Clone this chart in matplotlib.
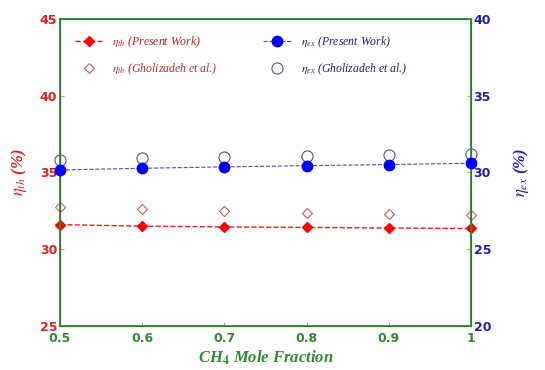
import matplotlib.pyplot as plt
import numpy as np

plt.rcParams['mathtext.fontset'] = 'stix'

# CH4 mole fraction and efficiencies (%)
x_ch4 = [0.5, 0.6, 0.7, 0.8, 0.9, 1.0]
eta_th_pw = [31.6, 31.5, 31.45, 31.42, 31.38, 31.35]
eta_th_gh = [32.73, 32.64, 32.51, 32.38, 32.3, 32.21]
eta_ex_pw = [30.16, 30.27, 30.36, 30.44, 30.51, 30.6]
eta_ex_gh = [30.81, 30.92, 31.03, 31.1, 31.16, 31.2]

red = '#e02020'
blue = '#2020b0'
green = '#2e8b2e'
serif = 'Liberation Serif'

fig = plt.figure(figsize=(5.45, 3.7), dpi=100)
ax1 = fig.add_axes([0.110, 0.119, 0.754, 0.830])
ax2 = ax1.twinx()

l1, = ax1.plot(x_ch4, eta_th_pw, color=red, linestyle='--', linewidth=1,
               marker='D', markersize=5, markerfacecolor='red', markeredgecolor='red',
               label=r'$\eta_{th}$ (Present Work)', clip_on=False, zorder=5)
l2, = ax1.plot(x_ch4, eta_th_gh, linestyle='none', marker='D', markersize=5.5,
               markerfacecolor='none', markeredgecolor='#c06060', markeredgewidth=0.8,
               label=r'$\eta_{th}$ (Gholizadeh et al.)', clip_on=False)
l3, = ax2.plot(x_ch4, eta_ex_pw, color='#5050a0', linestyle='--', linewidth=0.8,
               marker='o', markersize=7.5, markerfacecolor='blue', markeredgecolor='blue',
               label=r'$\eta_{ex}$ (Present Work)', clip_on=False, zorder=5)
l4, = ax2.plot(x_ch4, eta_ex_gh, linestyle='none', marker='o', markersize=8,
               markerfacecolor='none', markeredgecolor='#5050a0', markeredgewidth=0.8,
               label=r'$\eta_{ex}$ (Gholizadeh et al.)', clip_on=False)

ax1.set_xlim(0.5, 1.0)
ax1.set_ylim(25, 45)
ax2.set_ylim(20, 40)
ax1.set_xticks([0.5, 0.6, 0.7, 0.8, 0.9, 1.0])
ax1.set_xticklabels(['0.5', '0.6', '0.7', '0.8', '0.9', '1'])
ax1.set_yticks([25, 30, 35, 40, 45])
ax2.set_yticks([20, 25, 30, 35, 40])

for sp in ax2.spines.values():
    sp.set_color(green)
    sp.set_linewidth(1.3)

ax1.tick_params(axis='x', colors='#9ab09a', direction='in', length=3, labelsize=9, pad=4)
ax1.tick_params(axis='y', colors='#9ab09a', direction='in', length=3, labelsize=9, pad=2)
ax2.tick_params(axis='y', colors='#9ab09a', direction='in', length=3, labelsize=9, pad=2)
for lab in ax1.get_xticklabels():
    lab.set_color(green)
    lab.set_fontweight('bold')
for lab in ax1.get_yticklabels():
    lab.set_color(red)
    lab.set_fontweight('bold')
for lab in ax2.get_yticklabels():
    lab.set_color(blue)
    lab.set_fontweight('bold')

ax1.set_xlabel(r'CH$_\mathbf{4}$ Mole Fraction', color=green, fontsize=12, fontweight='bold',
               style='italic', family=serif, labelpad=3)
ax1.set_ylabel(r'$\eta_{th}$ (%)', color=red, fontsize=12, fontweight='bold',
               style='italic', family=serif, labelpad=8)
ax2.set_ylabel(r'$\eta_{ex}$ (%)', color=blue, fontsize=12, fontweight='bold',
               style='italic', family=serif, labelpad=14)

leg = ax2.legend(handles=[l1, l2, l3, l4], ncol=2, frameon=False,
                 loc='upper left', bbox_to_anchor=(0.01, 0.985),
                 prop={'family': serif, 'style': 'italic', 'size': 8.5},
                 handlelength=2.4, columnspacing=3.8, labelspacing=1.0)
cols = ['#b02020', '#b03030', '#202080', '#202080']
for t, c in zip(leg.get_texts(), cols):
    t.set_color(c)

fig.savefig('out.png', dpi=100)
